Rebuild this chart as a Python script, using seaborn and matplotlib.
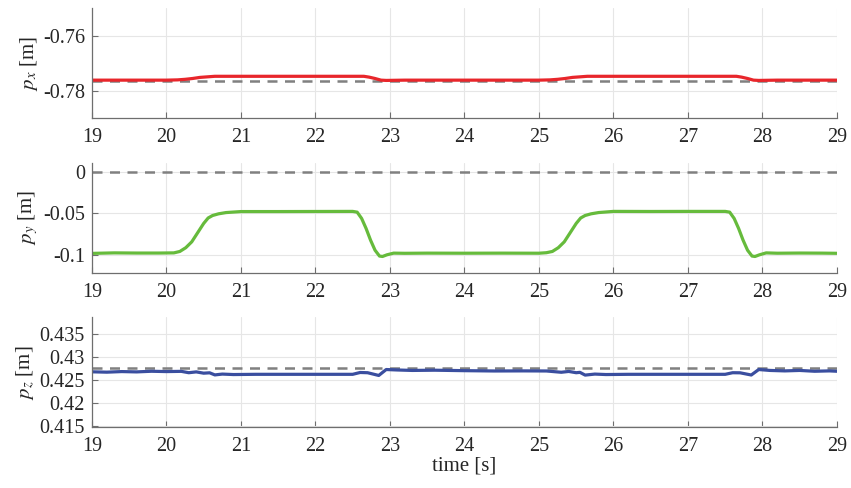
import numpy as np
import pandas as pd
import matplotlib
matplotlib.use("Agg")
import matplotlib.pyplot as plt
import seaborn as sns

# --- data ---
time_x = [19.0, 19.5, 20.0, 20.15, 20.25, 20.35, 20.45, 20.55, 20.65, 21.0, 21.5, 22.0, 22.5, 22.65,
          22.72, 22.8, 22.88, 22.95, 23.2, 23.6, 24.0, 24.5, 25.0, 25.15, 25.25, 25.35, 25.45,
          25.55, 25.65, 26.0, 26.5, 27.0, 27.5, 27.65, 27.72, 27.8, 27.88, 27.95, 28.2, 28.6, 29.0]
p_x = [-0.7762, -0.7762, -0.7762, -0.7761, -0.7759, -0.7756, -0.7752, -0.7750, -0.7748, -0.7748,
       -0.7748, -0.7748, -0.7748, -0.7748, -0.7751, -0.7756, -0.7762, -0.7763, -0.7762, -0.7762,
       -0.7762, -0.7762, -0.7762, -0.7761, -0.7759, -0.7756, -0.7752, -0.7750, -0.7748, -0.7748,
       -0.7748, -0.7748, -0.7748, -0.7748, -0.7751, -0.7756, -0.7762, -0.7763, -0.7762, -0.7762,
       -0.7762]
ref_x = -0.7766

time_y = [19.0, 19.3, 19.6, 19.9, 20.1, 20.18, 20.26, 20.34, 20.42, 20.5, 20.56, 20.62, 20.7, 20.8,
          21.0, 21.5, 22.0, 22.5, 22.56, 22.62, 22.68, 22.74, 22.8, 22.86, 22.9, 22.96, 23.05, 23.2,
          23.5, 24.0, 24.5, 25.0, 25.1, 25.18, 25.26, 25.34, 25.42, 25.5, 25.56, 25.62, 25.7, 25.8,
          26.0, 26.5, 27.0, 27.5, 27.56, 27.62, 27.68, 27.74, 27.8, 27.86, 27.9, 27.96, 28.05, 28.2,
          28.5, 28.8, 29.0]
p_y = [-0.0978, -0.0972, -0.0974, -0.0974, -0.0972, -0.0955, -0.0910, -0.0840, -0.0730, -0.0620,
       -0.0555, -0.0525, -0.0505, -0.0490, -0.0478, -0.0478, -0.0477, -0.0476, -0.0485, -0.0560,
       -0.0680, -0.0820, -0.0940, -0.1010, -0.1015, -0.0995, -0.0975, -0.0977, -0.0975, -0.0976,
       -0.0975, -0.0976, -0.0970, -0.0955, -0.0910, -0.0840, -0.0730, -0.0620, -0.0555, -0.0525,
       -0.0505, -0.0490, -0.0476, -0.0477, -0.0476, -0.0476, -0.0485, -0.0560, -0.0680, -0.0820,
       -0.0940, -0.1010, -0.1015, -0.0995, -0.0972, -0.0976, -0.0974, -0.0975, -0.0977]
ref_y = 0.0

time_z = [19.0, 19.2, 19.4, 19.6, 19.8, 20.0, 20.2, 20.3, 20.4, 20.5, 20.58, 20.65, 20.75, 20.9,
          21.2, 22.0, 22.5, 22.6, 22.7, 22.85, 22.95, 23.1, 23.3, 23.6, 24.0, 24.4, 24.8, 25.1,
          25.3, 25.4, 25.5, 25.55, 25.62, 25.75, 25.9, 26.2, 27.0, 27.5, 27.6, 27.7, 27.85, 27.95,
          28.1, 28.3, 28.5, 28.7, 28.9, 29.0]
p_z = [0.42680, 0.42672, 0.42685, 0.42678, 0.42692, 0.42685, 0.42690, 0.42660, 0.42678, 0.42650,
       0.42658, 0.42612, 0.42630, 0.42620, 0.42625, 0.42625, 0.42625, 0.42665, 0.42660, 0.42600,
       0.42730, 0.42720, 0.42710, 0.42715, 0.42705, 0.42698, 0.42700, 0.42698, 0.42670, 0.42688,
       0.42660, 0.42668, 0.42608, 0.42630, 0.42620, 0.42625, 0.42625, 0.42625, 0.42660, 0.42658,
       0.42610, 0.42730, 0.42710, 0.42700, 0.42710, 0.42692, 0.42700, 0.42692]
ref_z = 0.42765

x_ticks = [19, 20, 21, 22, 23, 24, 25, 26, 27, 28, 29]
yticks_x = [-0.76, -0.78]
yticklabels_x = ["-0.76", "-0.78"]
yticks_y = [0, -0.05, -0.1]
yticklabels_y = ["0", "-0.05", "-0.1"]
yticks_z = [0.435, 0.43, 0.425, 0.42, 0.415]
yticklabels_z = ["0.435", "0.43", "0.425", "0.42", "0.415"]

sns.set_theme(style="whitegrid")
plt.rcParams["font.family"] = ["Liberation Serif", "DejaVu Serif"]
plt.rcParams["mathtext.fontset"] = "stix"

fig = plt.figure(figsize=(8.51, 4.88), dpi=100)

panels = [
    (time_x, p_x, ref_x, "#e8262b", (-0.79, -0.75), yticks_x, yticklabels_x, r"$p_x$ [m]", 0.758),
    (time_y, p_y, ref_y, "#66bb3c", (-0.121, 0.0105), yticks_y, yticklabels_y, r"$p_y$ [m]", 0.441),
    (time_z, p_z, ref_z, "#3a4e9f", (0.4146, 0.4387), yticks_z, yticklabels_z, r"$p_z$ [m]", 0.124),
]

for t, v, ref, col, ylim, yt, ytl, lab, bottom in panels:
    ax = fig.add_axes([0.108, bottom, 0.8755, 0.2254])
    sns.lineplot(x=[19, 29], y=[ref, ref], ax=ax, color="#808080", lw=1.8,
                 linestyle=(0, (4, 3)))
    sns.lineplot(x=t, y=v, ax=ax, color=col, lw=2.3)
    ax.set_xlim(19, 29)
    ax.set_ylim(*ylim)
    ax.set_xticks(x_ticks)
    ax.set_xticklabels([str(x) for x in x_ticks])
    ax.set_yticks(yt)
    ax.set_yticklabels(ytl)
    ax.grid(True, color="#e6e6e6", lw=0.8)
    for s in ["top", "right"]:
        ax.spines[s].set_visible(False)
    for s in ["left", "bottom"]:
        ax.spines[s].set_color("#6e6e6e")
        ax.spines[s].set_linewidth(0.9)
    ax.tick_params(direction="in", length=4, width=0.8, color="#6e6e6e",
                   labelsize=14.5, labelcolor="#262626", left=True, bottom=True)
    ax.tick_params(axis="x", pad=7)
    ax.tick_params(axis="y", pad=5)
    ax.set_ylabel(lab, fontsize=15, color="#262626", labelpad=2)
    ax.set_xlabel("")
    ax.set_facecolor("white")

ax.set_xlabel("time [s]", fontsize=15, color="#262626", labelpad=0)

fig.savefig("out.png", dpi=100)
